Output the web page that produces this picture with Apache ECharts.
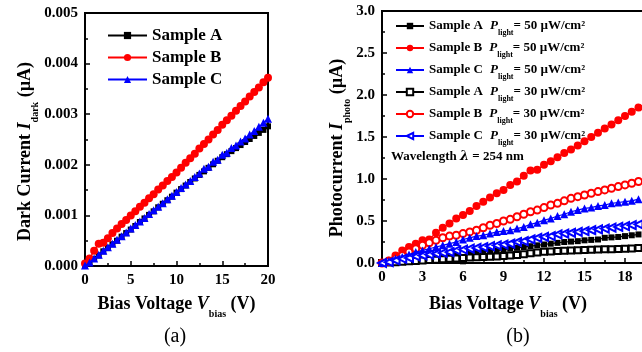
<!DOCTYPE html>
<html>
<head>
<meta charset="utf-8">
<script src="https://cdn.jsdelivr.net/npm/echarts@6/dist/echarts.min.js"></script>
<style>
html,body{margin:0;padding:0;background:#fff;}
#c{width:642px;height:352px;}
</style>
</head>
<body>
<div id="c"></div>
<script>
// ---------- DATA ----------
// (a) dark current, bias voltage in V
const voltDark = [0,0.5,1,1.5,2,2.5,3,3.5,4,4.5,5,5.5,6,6.5,7,7.5,8,8.5,9,9.5,10,10.5,11,11.5,12,12.5,13,13.5,14,14.5,15,15.5,16,16.5,17,17.5,18,18.5,19,19.5,20];
const darkA = [0.00000,0.00006,0.00014,0.00021,0.00029,0.00036,0.00043,0.00050,0.00058,0.00065,0.00072,0.00079,0.00087,0.00094,0.00101,0.00108,0.00116,0.00123,0.00130,0.00137,0.00145,0.00152,0.00159,0.00166,0.00173,0.00180,0.00187,0.00194,0.00201,0.00208,0.00215,0.00221,0.00227,0.00233,0.00239,0.00245,0.00251,0.00257,0.00263,0.00269,0.00276];
const darkB = [0.00005,0.00015,0.00030,0.00044,0.00046,0.00055,0.00065,0.00074,0.00083,0.00091,0.00100,0.00108,0.00117,0.00125,0.00134,0.00142,0.00151,0.00159,0.00168,0.00176,0.00185,0.00194,0.00204,0.00213,0.00222,0.00232,0.00241,0.00250,0.00260,0.00269,0.00279,0.00288,0.00297,0.00307,0.00316,0.00325,0.00335,0.00344,0.00353,0.00363,0.00372];
const darkC = [0.00001,0.00007,0.00015,0.00022,0.00030,0.00037,0.00044,0.00052,0.00059,0.00066,0.00074,0.00081,0.00088,0.00095,0.00103,0.00110,0.00117,0.00124,0.00132,0.00139,0.00146,0.00154,0.00161,0.00168,0.00176,0.00183,0.00192,0.00196,0.00206,0.00210,0.00220,0.00224,0.00233,0.00238,0.00246,0.00252,0.00260,0.00267,0.00275,0.00283,0.00291];

// (b) photocurrent, bias voltage in V
const voltPhoto = [0,0.5,1,1.5,2,2.5,3,3.5,4,4.5,5,5.5,6,6.5,7,7.5,8,8.5,9,9.5,10,10.5,11,11.5,12,12.5,13,13.5,14,14.5,15,15.5,16,16.5,17,17.5,18,18.5,19];
const photoA50 = [0,0.01,0.02,0.03,0.04,0.05,0.06,0.07,0.08,0.09,0.10,0.11,0.02,0.12,0.13,0.14,0.145,0.15,0.16,0.17,0.18,0.19,0.20,0.21,0.22,0.23,0.24,0.25,0.255,0.26,0.27,0.275,0.28,0.30,0.305,0.31,0.32,0.33,0.34];
const photoB50 = [0,0.03,0.09,0.15,0.19,0.23,0.27,0.28,0.36,0.42,0.47,0.53,0.57,0.62,0.68,0.73,0.78,0.83,0.87,0.93,0.97,1.04,1.10,1.11,1.17,1.21,1.26,1.31,1.35,1.40,1.45,1.50,1.55,1.60,1.65,1.70,1.75,1.80,1.85];
const photoC50 = [0,0.02,0.05,0.07,0.10,0.13,0.15,0.17,0.19,0.21,0.23,0.25,0.28,0.30,0.32,0.33,0.35,0.37,0.38,0.39,0.41,0.43,0.46,0.48,0.51,0.53,0.56,0.58,0.61,0.63,0.65,0.66,0.68,0.69,0.71,0.72,0.73,0.74,0.76];
const photoA30 = [0,0.005,0.01,0.015,0.02,0.025,0.03,0.035,0.04,0.045,0.05,0.055,0.06,0.065,0.068,0.072,0.075,0.078,0.082,0.088,0.095,0.105,0.115,0.125,0.133,0.137,0.142,0.145,0.148,0.151,0.154,0.157,0.16,0.163,0.165,0.168,0.17,0.174,0.178];
const photoB30 = [0,0.02,0.05,0.09,0.13,0.17,0.21,0.24,0.27,0.30,0.32,0.33,0.35,0.37,0.39,0.42,0.45,0.47,0.50,0.52,0.55,0.58,0.61,0.63,0.66,0.69,0.71,0.74,0.77,0.79,0.81,0.83,0.85,0.87,0.89,0.91,0.93,0.95,0.97];
const photoC30 = [0,0.01,0.03,0.05,0.06,0.08,0.09,0.10,0.11,0.12,0.13,0.15,0.16,0.17,0.18,0.19,0.20,0.21,0.22,0.23,0.25,0.26,0.28,0.30,0.31,0.32,0.34,0.35,0.36,0.37,0.38,0.39,0.40,0.41,0.42,0.43,0.44,0.45,0.46];

const darkNames = ['Sample A','Sample B','Sample C'];
const photoNames = ['A50','B50','C50','A30','B30','C30'];
const photoLabels = {
  A50:['Sample A','50'], B50:['Sample B','50'], C50:['Sample C','50'],
  A30:['Sample A','30'], B30:['Sample B','30'], C30:['Sample C','30']
};

// ---------- CHART ----------
const FONT = '"Liberation Serif","Times New Roman",serif';
const chart = echarts.init(document.getElementById('c'), null, {renderer:'canvas'});
const zip = (xs, ys) => xs.map((x,i)=>[x, ys[i]]);

function axisBase(){
  return {
    axisLine:{show:true, onZero:false, lineStyle:{color:'#000', width:2}},
    axisTick:{show:true, inside:true, length:5, lineStyle:{color:'#000', width:1.5}},
    minorTick:{show:true, splitNumber:2, length:3, lineStyle:{color:'#000', width:1.5}},
    splitLine:{show:false},
    axisLabel:{color:'#000', fontFamily:FONT, fontWeight:'bold', fontSize:15, margin:7}
  };
}
const titleRich = {
  m:{fontFamily:FONT, fontWeight:'bold', fontSize:18, color:'#000'},
  i:{fontFamily:FONT, fontWeight:'bold', fontStyle:'italic', fontSize:18, color:'#000'},
  s:{fontFamily:FONT, fontWeight:'bold', fontSize:10, color:'#000', verticalAlign:'bottom', padding:[0,0,-6,0]}
};

function lineSeries(name, xi, yi, data, color, symbol, size, rotate, z){
  return {
    name, type:'line', xAxisIndex:xi, yAxisIndex:yi, data,
    symbol, symbolSize:size, symbolRotate:rotate||0,
    lineStyle:{color, width:1.2},
    itemStyle:{color, borderColor:color, borderWidth: symbol.indexOf('empty')===0?1.2:0},
    emphasis:{disabled:true}, animation:false, z:z||2
  };
}

const legendRich = {
  a:{fontFamily:FONT, fontWeight:'bold', fontSize:13, color:'#000', lineHeight:14},
  p:{fontFamily:FONT, fontWeight:'bold', fontStyle:'italic', fontSize:13, color:'#000', lineHeight:14},
  s:{fontFamily:FONT, fontWeight:'bold', fontSize:8, color:'#000', verticalAlign:'bottom', lineHeight:14, padding:[0,0,-4,0]}
};

const option = {
  backgroundColor:'#fff',
  animation:false,
  grid:[
    {left:85, top:13, width:183, height:253, show:true, borderColor:'#000', borderWidth:2, backgroundColor:'transparent', outerBoundsMode:'none', containLabel:false},
    {left:382, top:11, width:270, height:252, show:true, borderColor:'#000', borderWidth:2, backgroundColor:'transparent', outerBoundsMode:'none', containLabel:false}
  ],
  xAxis:[
    Object.assign(axisBase(), {type:'value', gridIndex:0, min:0, max:20, interval:5,
      name:'{m|Bias Voltage }{i|V}{s|bias}{m| (V)}', nameLocation:'middle', nameGap:29,
      nameTextStyle:{rich:titleRich}}),
    Object.assign(axisBase(), {type:'value', gridIndex:1, min:0, max:20, interval:3,
      name:'{m|Bias Voltage }{i|V}{s|bias}{m| (V)}', nameLocation:'middle', nameGap:32,
      nameTextStyle:{rich:titleRich, padding:[0,18,0,0]}})
  ],
  yAxis:[
    Object.assign(axisBase(), {type:'value', gridIndex:0, min:0, max:0.005, interval:0.001,
      axisLabel:Object.assign(axisBase().axisLabel,{formatter:v=>v.toFixed(3)}),
      name:'{m|Dark Current }{i|I}{s|dark}{m| (µA)}', nameLocation:'middle', nameGap:51, nameRotate:90,
      nameTextStyle:{rich:titleRich, padding:[0,24,0,0]}}),
    Object.assign(axisBase(), {type:'value', gridIndex:1, min:0, max:3, interval:0.5,
      axisLabel:Object.assign(axisBase().axisLabel,{formatter:v=>v.toFixed(1)}),
      name:'{m|Photocurrent }{i|I}{s|photo}{m| (µA)}', nameLocation:'middle', nameGap:33, nameRotate:90,
      nameTextStyle:{rich:titleRich, padding:[0,22,0,0]}})
  ],
  legend:[
    {data:darkNames, orient:'vertical', left:102, top:22, itemWidth:39, itemHeight:9, itemGap:5,
     textStyle:{fontFamily:FONT, fontWeight:'bold', fontSize:17, color:'#000', lineHeight:17},
     selectedMode:false},
    {data:photoNames, orient:'vertical', left:390, top:14, itemWidth:28, itemHeight:8, itemGap:4,
     formatter:n=>'{a|'+photoLabels[n][0]+'}  {p|P}{s|light}{a|= '+photoLabels[n][1]+' µW/cm²}',
     textStyle:{rich:legendRich, fontSize:13, lineHeight:14},
     selectedMode:false}
  ],
  graphic:[
    {type:'text', left:391, top:150, style:{
      text:'{a|Wavelength }{l|λ}{a| = 254 nm}',
      rich:{a:{fontFamily:FONT, fontWeight:'bold', fontSize:13, fill:'#000'},
            l:{fontFamily:'"DejaVu Serif",serif', fontWeight:'bold', fontStyle:'italic', fontSize:13, fill:'#000'}}}},
    {type:'text', x:175, y:337, style:{text:'(a)', font:'20px '+FONT, fill:'#000', align:'center', verticalAlign:'middle'}},
    {type:'text', x:518, y:337, style:{text:'(b)', font:'20px '+FONT, fill:'#000', align:'center', verticalAlign:'middle'}}
  ],
  series:[
    lineSeries('Sample A',0,0,zip(voltDark,darkA),'#000000','rect',6,0,2),
    lineSeries('Sample B',0,0,zip(voltDark,darkB),'#ff0000','circle',8,0,3),
    lineSeries('Sample C',0,0,zip(voltDark,darkC),'#0000ff','triangle',8,0,4),
    lineSeries('A50',1,1,zip(voltPhoto,photoA50),'#000000','rect',6,0,2),
    lineSeries('B50',1,1,zip(voltPhoto,photoB50),'#ff0000','circle',8,0,3),
    lineSeries('C50',1,1,zip(voltPhoto,photoC50),'#0000ff','triangle',8,0,4),
    lineSeries('A30',1,1,zip(voltPhoto,photoA30),'#000000','emptyRect',6,0,2),
    lineSeries('B30',1,1,zip(voltPhoto,photoB30),'#ff0000','emptyCircle',7,0,3),
    lineSeries('C30',1,1,zip(voltPhoto,photoC30),'#0000ff','emptyTriangle',8,90,4)
  ]
};
chart.setOption(option);
</script>
</body>
</html>
